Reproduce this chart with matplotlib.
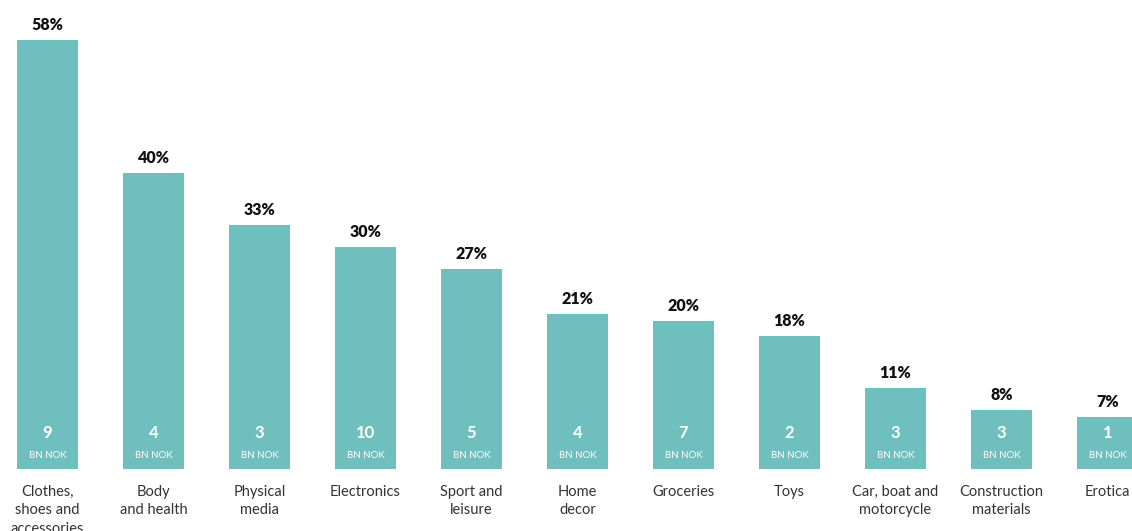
import matplotlib
matplotlib.use("Agg")
import matplotlib.pyplot as plt

# data
categories = ["Clothes,\nshoes and\naccessories", "Body\nand health", "Physical\nmedia",
              "Electronics", "Sport and\nleisure", "Home\ndecor", "Groceries", "Toys",
              "Car, boat and\nmotorcycle", "Construction\nmaterials", "Erotica"]
share_pct = [58, 40, 33, 30, 27, 21, 20, 18, 11, 8, 7]
bn_nok = [9, 4, 3, 10, 5, 4, 7, 2, 3, 3, 1]

bar_color = "#70bfbf"
plt.rcParams['font.family'] = ['Lato', 'DejaVu Sans']

fig = plt.figure(figsize=(11.32, 5.31), dpi=100)
# baseline sits 469 px from the top
ax = fig.add_axes([0, (531 - 469) / 531, 1, 469 / 531])

x = list(range(len(categories)))
ax.bar(x, share_pct, width=0.575, color=bar_color)

ax.set_xlim(-47.5 / 106, (1132 - 47.5) / 106)
ax.set_ylim(0, 469 / 7.4)

for xi, p, v in zip(x, share_pct, bn_nok):
    ax.annotate(f"{p}%", (xi, p), xytext=(0, 5), textcoords="offset points",
                ha="center", va="bottom", fontsize=11.5, fontweight="heavy", color="#111111")
    ax.annotate(str(v), (xi, 0), xytext=(0, 26), textcoords="offset points",
                ha="center", va="center", fontsize=12, fontweight="bold", color="white")
    ax.annotate("BN NOK", (xi, 0), xytext=(0, 10), textcoords="offset points",
                ha="center", va="center", fontsize=7, color="white")

ax.set_xticks(x)
ax.set_xticklabels(categories, fontsize=10.5, color="#333333", linespacing=1.4)
ax.tick_params(axis="x", length=0, pad=11.5)
ax.set_yticks([])
for s in ax.spines.values():
    s.set_visible(False)

fig.savefig("out.png", dpi=100)
